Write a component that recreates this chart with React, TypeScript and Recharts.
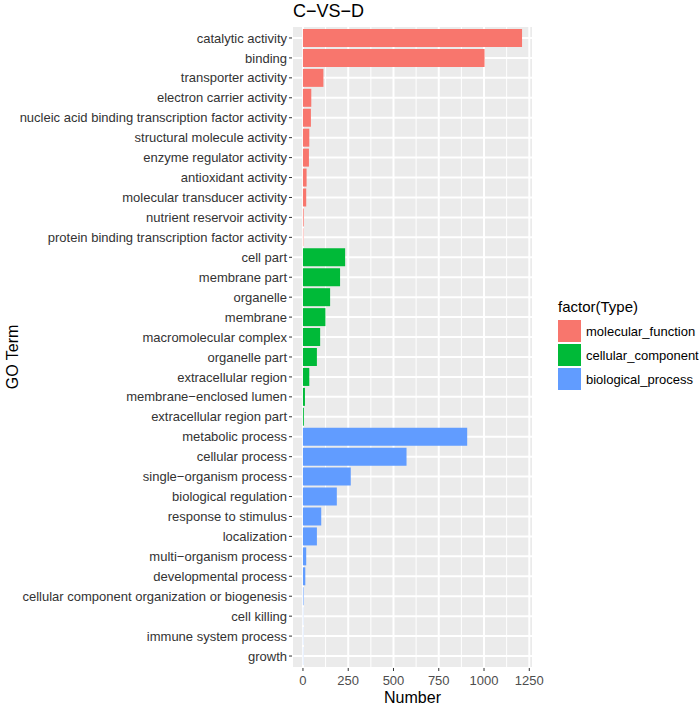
import React from "react";
import { Bar, BarChart, CartesianGrid, XAxis, YAxis } from "recharts";

const terms = [
  "catalytic activity",
  "binding",
  "transporter activity",
  "electron carrier activity",
  "nucleic acid binding transcription factor activity",
  "structural molecule activity",
  "enzyme regulator activity",
  "antioxidant activity",
  "molecular transducer activity",
  "nutrient reservoir activity",
  "protein binding transcription factor activity",
  "cell part",
  "membrane part",
  "organelle",
  "membrane",
  "macromolecular complex",
  "organelle part",
  "extracellular region",
  "membrane\u2212enclosed lumen",
  "extracellular region part",
  "metabolic process",
  "cellular process",
  "single\u2212organism process",
  "biological regulation",
  "response to stimulus",
  "localization",
  "multi\u2212organism process",
  "developmental process",
  "cellular component organization or biogenesis",
  "cell killing",
  "immune system process",
  "growth",
];

const counts = [
  1210, 1003, 113, 46, 44, 35, 33, 20, 18, 4, 2,
  233, 205, 150, 124, 95, 77, 35, 11, 5,
  907, 572, 264, 187, 101, 77, 18, 13, 3, 1, 1, 1,
];

const types = [
  "molecular_function", "molecular_function", "molecular_function", "molecular_function",
  "molecular_function", "molecular_function", "molecular_function", "molecular_function",
  "molecular_function", "molecular_function", "molecular_function",
  "cellular_component", "cellular_component", "cellular_component", "cellular_component",
  "cellular_component", "cellular_component", "cellular_component", "cellular_component",
  "cellular_component",
  "biological_process", "biological_process", "biological_process", "biological_process",
  "biological_process", "biological_process", "biological_process", "biological_process",
  "biological_process", "biological_process", "biological_process", "biological_process",
];

const typeNames = ["molecular_function", "cellular_component", "biological_process"];
const typeColors = ["#F8766D", "#00BA38", "#619CFF"];

const majorTicks = [0, 250, 500, 750, 1000, 1250];
const minorTicks = [125, 375, 625, 875, 1125];

const data = terms.map((term, i) => {
  const row: Record<string, string | number | null> = { term };
  typeNames.forEach((t) => {
    row[t] = types[i] === t ? counts[i] : null;
  });
  return row;
});

const font = '"Liberation Sans", Arial, Helvetica, sans-serif';

// plain text tick so long GO terms never wrap
const TermTick = (props: any) => {
  const { x, y, payload } = props;
  return (
    <text x={x} y={y} dy="0.355em" textAnchor="end" fontSize={13} fill="#333">
      {payload.value}
    </text>
  );
};

const GoLabel = (props: any) => {
  const { viewBox } = props;
  const cx = 12;
  const cy = viewBox.y + viewBox.height / 2 + 10;
  return (
    <text x={cx} y={cy} transform={`rotate(-90 ${cx} ${cy})`} textAnchor="middle" dy="0.355em" fontSize={16} fill="#000">
      GO Term
    </text>
  );
};

export default function App() {
  return (
    <div style={{ position: "absolute", left: 0, top: 0, width: 699, height: 707, background: "#fff", fontFamily: font }}>
      <div style={{ position: "absolute", left: 293, top: 1, fontSize: 18, color: "#000" }}>C{"\u2212"}VS{"\u2212"}D</div>
      <BarChart
        width={699}
        height={707}
        data={data}
        layout="vertical"
        margin={{ top: 26, right: 166, bottom: 0, left: 0 }}
        barCategoryGap="5%"
      >
        <CartesianGrid fill="#EBEBEB" stroke="#FFFFFF" strokeWidth={2} />
        <CartesianGrid xAxisId="minor" horizontal={false} stroke="#FFFFFF" strokeWidth={1} />
        <XAxis
          type="number"
          domain={[-60.5, 1270.5]}
          ticks={majorTicks}
          allowDataOverflow
          axisLine={false}
          tickSize={3}
          tickMargin={5}
          tickLine={{ stroke: "#333" }}
          tick={{ fontSize: 13, fill: "#4D4D4D" }}
          height={39}
          label={{ value: "Number", position: "insideBottom", offset: 4, fontSize: 16, fill: "#000" }}
        />
        <XAxis xAxisId="minor" type="number" domain={[-60.5, 1270.5]} ticks={minorTicks} allowDataOverflow hide />
        <YAxis
          type="category"
          dataKey="term"
          width={292}
          interval={0}
          axisLine={false}
          tickSize={3}
          tickMargin={2}
          tickLine={{ stroke: "#333" }}
          tick={<TermTick />}
          padding={{ top: 2, bottom: 2 }}
          label={<GoLabel />}
        />
        {typeNames.map((t, i) => (
          <Bar key={t} dataKey={t} stackId="a" fill={typeColors[i]} isAnimationActive={false} />
        ))}
      </BarChart>
      <div style={{ position: "absolute", left: 558, top: 298, color: "#000" }}>
        <div style={{ fontSize: 15, height: 21 }}>factor(Type)</div>
        {typeNames.map((t, i) => (
          <div key={t} style={{ display: "flex", alignItems: "center", height: 24 }}>
            <div style={{ width: 23, height: 22, background: typeColors[i], marginRight: 5 }} />
            <span style={{ fontSize: 13 }}>{t}</span>
          </div>
        ))}
      </div>
    </div>
  );
}
